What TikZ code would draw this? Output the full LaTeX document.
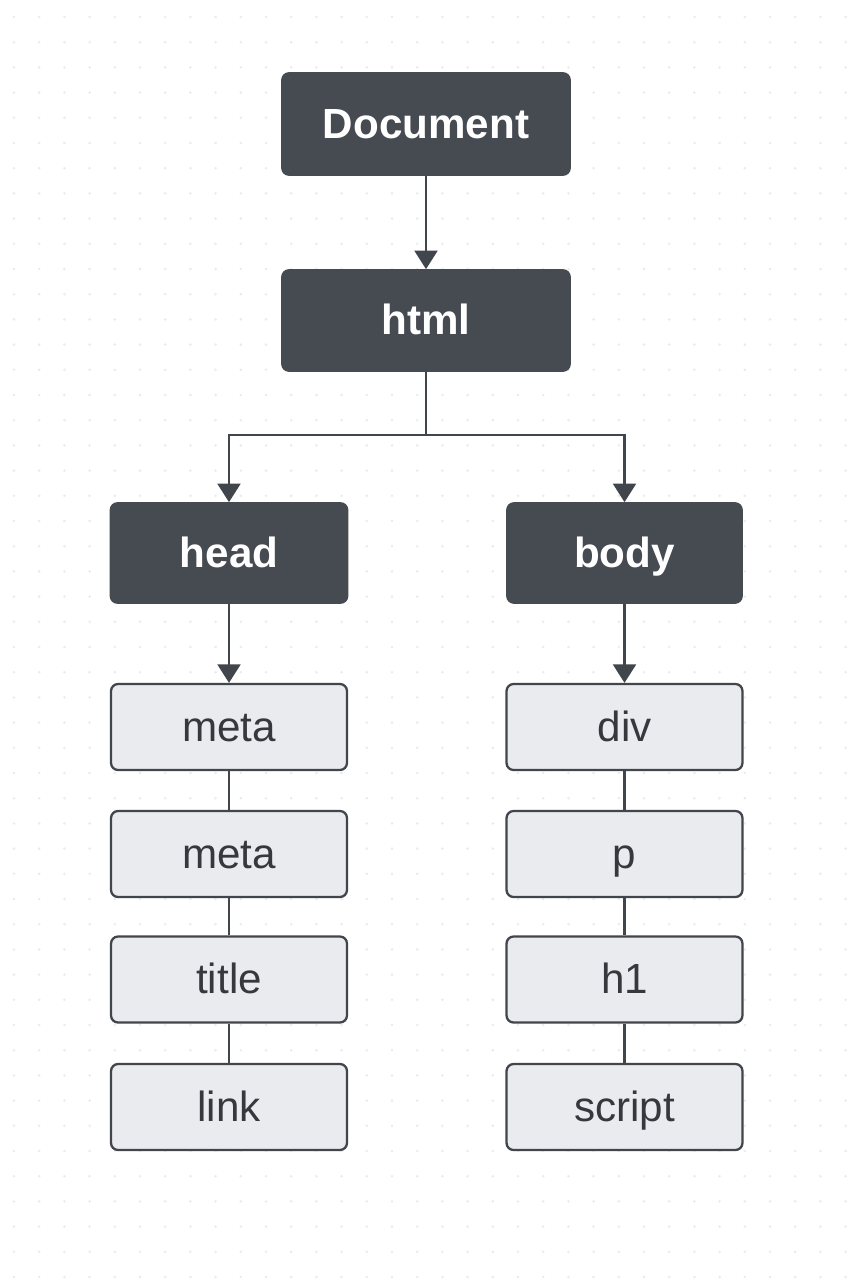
\documentclass[tikz,border=0pt]{standalone}
\usepackage{fontspec}
\setmainfont{Liberation Sans}
\usetikzlibrary{arrows.meta}
\definecolor{darkbox}{HTML}{464A51}
\definecolor{lightbox}{HTML}{EAEBEE}
\definecolor{edgeline}{HTML}{41454C}
\definecolor{inktext}{HTML}{35383D}
\definecolor{griddot}{HTML}{EBEBEB}
\begin{document}
\begin{tikzpicture}[x=0.02cm, y=-0.02cm,
  darknode/.style={draw=darkbox, fill=darkbox, rounded corners=4pt, line width=1pt,
    text=white, font=\fontsize{24}{28}\selectfont\bfseries, inner sep=0pt,
    text height=20pt, text depth=4pt},
  lightnode/.style={draw=edgeline, fill=lightbox, rounded corners=4pt, line width=1.3pt,
    text=inktext, font=\fontsize{24}{28}\selectfont, inner sep=0pt,
    text height=20pt, text depth=4pt,
    minimum width=4.72cm, minimum height=1.72cm},
  link/.style={draw=edgeline, line width=1.4pt},
  arr/.style={link, -{Triangle[width=13pt,length=10.5pt]}}]
\useasboundingbox (0,0) rectangle (853,1280);
\fill[white] (0,0) rectangle (853,1280);
\foreach \i in {0,...,33}
  \foreach \j in {0,...,50}
    \fill[griddot] (14+25.2*\i,17+25.2*\j) circle[radius=0.8pt];
\node[darknode, minimum width=5.76cm, minimum height=2.04cm] (doc) at (426,124) {Document};
\node[darknode, minimum width=5.76cm, minimum height=2.02cm] (html) at (426,320.5) {html};
\node[darknode, minimum width=4.74cm, minimum height=2.0cm] (head) at (229,553) {head};
\node[darknode, minimum width=4.70cm, minimum height=2.0cm] (body) at (624.5,553) {body};
\node[lightnode] (meta1) at (229,727) {meta};
\node[lightnode] (meta2) at (229,854) {meta};
\node[lightnode] (title) at (229,979.5) {title};
\node[lightnode] (linkel) at (229,1107) {link};
\node[lightnode] (div) at (624.5,727) {div};
\node[lightnode] (para) at (624.5,854) {p};
\node[lightnode] (hone) at (624.5,979.5) {h1};
\node[lightnode] (script) at (624.5,1107) {script};
\coordinate (split) at (426,435);
\draw[arr] (doc) -- (html);
\draw[link] (html) -- (split);
\draw[arr] (split) -| (head);
\draw[arr] (split) -| (body);
\draw[arr] (head) -- (meta1);
\draw[arr] (body) -- (div);
\draw[link] (meta1) -- (meta2);
\draw[link] (meta2) -- (title);
\draw[link] (title) -- (linkel);
\draw[link] (div) -- (para);
\draw[link] (para) -- (hone);
\draw[link] (hone) -- (script);
\end{tikzpicture}
\end{document}
